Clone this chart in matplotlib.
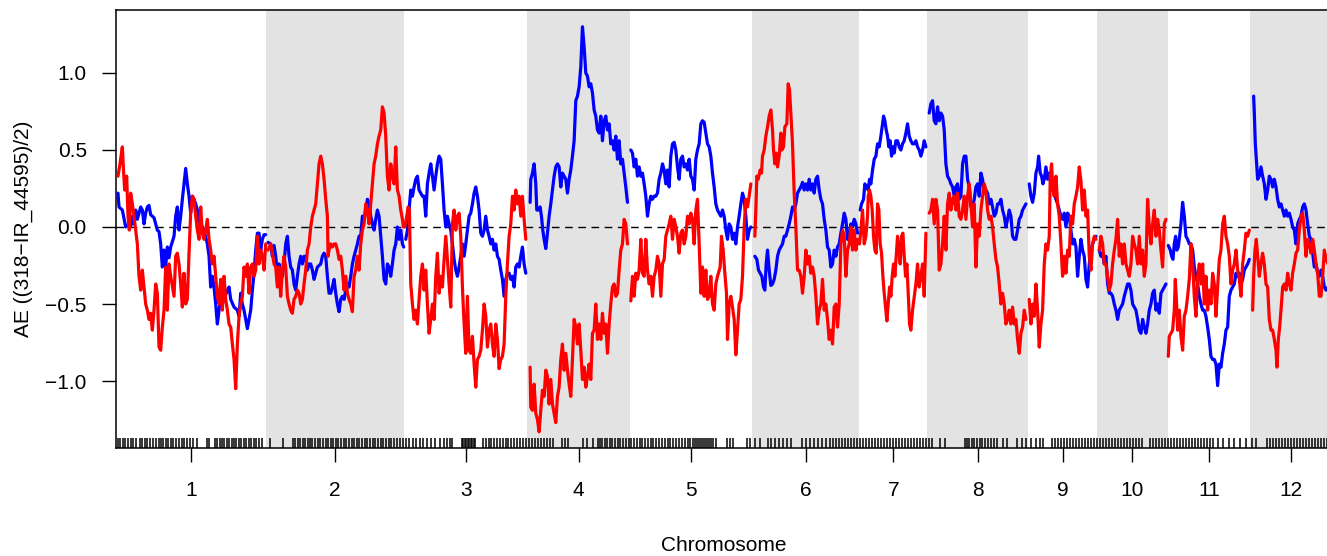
import numpy as np
import matplotlib
matplotlib.use("Agg")
import matplotlib.pyplot as plt

plt.rcParams['font.family'] = ['Liberation Sans', 'DejaVu Sans']

chromosomes = ["1", "2", "3", "4", "5", "6", "7", "8", "9", "10", "11", "12"]
# chromosome lengths in genome position units (100 kb)
chrom_len = [450, 414, 369, 309, 366, 321, 204, 303, 207, 211, 247, 246]

# (position within chromosome, AE value)
blue_1 = [(6, 0.22), (9, 0.13), (19, 0.11), (29, 0.00), (39, 0.02), (44, 0.00), (49, 0.07), (54, 0.02), (59, 0.11), (64, 0.05),
          (74, 0.13), (79, 0.11), (84, 0.02), (89, 0.09), (94, 0.13), (99, 0.14), (104, 0.08), (114, 0.06), (124, -0.02),
          (129, -0.03), (134, -0.11), (139, -0.26), (144, -0.15), (149, -0.26), (154, -0.13), (159, -0.20), (164, -0.13),
          (174, -0.06), (179, 0.07), (184, 0.13), (189, -0.02), (194, 0.07), (199, 0.18), (204, 0.28), (209, 0.38), (214, 0.28),
          (219, 0.20), (224, 0.09), (229, 0.20), (234, 0.18), (239, 0.15), (244, 0.11), (249, 0.00), (254, 0.02), (264, -0.02),
          (274, -0.11), (279, -0.19), (284, -0.39), (289, -0.32), (294, -0.39), (299, -0.50), (304, -0.63), (309, -0.54),
          (314, -0.45), (319, -0.50), (324, -0.47), (334, -0.41), (339, -0.39), (344, -0.47), (354, -0.52), (364, -0.54),
          (369, -0.58), (374, -0.43), (379, -0.50), (384, -0.54), (389, -0.60), (394, -0.66), (399, -0.60), (404, -0.54),
          (409, -0.41), (414, -0.30), (419, -0.15), (424, -0.04), (429, -0.04), (434, -0.15), (439, -0.08), (444, -0.05),
          (449, -0.05)]
blue_2 = [(6, -0.10), (14, -0.11), (19, -0.19), (24, -0.12), (29, -0.19), (34, -0.30), (39, -0.24), (44, -0.32), (49, -0.32),
          (54, -0.24), (59, -0.11), (64, -0.06), (69, -0.19), (74, -0.26), (79, -0.28), (84, -0.37), (89, -0.41), (94, -0.32),
          (99, -0.24), (104, -0.19), (109, -0.24), (114, -0.19), (119, -0.19), (124, -0.28), (129, -0.24), (134, -0.24),
          (139, -0.28), (144, -0.34), (149, -0.30), (154, -0.26), (164, -0.24), (169, -0.19), (174, -0.17), (179, -0.19),
          (184, -0.32), (189, -0.43), (194, -0.43), (199, -0.39), (204, -0.34), (209, -0.43), (214, -0.50), (219, -0.55),
          (224, -0.47), (229, -0.45), (234, -0.47), (239, -0.41), (244, -0.37), (249, -0.39), (254, -0.32), (259, -0.24),
          (264, -0.19), (269, -0.15), (274, -0.11), (279, -0.06), (284, -0.06), (289, 0.07), (294, 0.05), (299, 0.11),
          (304, 0.18), (309, 0.15), (314, 0.07), (319, 0.02), (324, -0.02), (329, 0.05), (334, 0.11), (339, 0.07), (344, -0.06),
          (349, -0.19), (354, -0.34), (359, -0.37), (364, -0.24), (369, -0.26), (374, -0.32), (379, -0.24), (384, -0.15),
          (389, -0.11), (394, 0.00), (399, -0.08), (404, -0.02), (409, -0.11), (413, -0.13)]
blue_3 = [(5, -0.08), (10, -0.02), (15, 0.11), (20, 0.24), (25, 0.20), (30, 0.26), (35, 0.31), (40, 0.33), (45, 0.24), (50, 0.22),
          (55, 0.20), (60, 0.20), (65, 0.07), (70, 0.28), (75, 0.35), (80, 0.41), (85, 0.33), (90, 0.24), (95, 0.33), (100, 0.41),
          (105, 0.46), (110, 0.44), (115, 0.28), (120, 0.11), (125, 0.00), (130, 0.07), (135, 0.02), (140, -0.02), (145, -0.11),
          (150, -0.21), (155, -0.28), (160, -0.32), (165, -0.26), (170, -0.19), (175, -0.11), (180, -0.19), (185, -0.11),
          (190, -0.02), (195, 0.07), (200, 0.09), (205, 0.15), (210, 0.22), (215, 0.26), (220, 0.20), (225, 0.11), (230, -0.04),
          (235, -0.06), (240, -0.02), (245, 0.07), (250, -0.02), (255, -0.06), (260, -0.11), (265, -0.08), (270, -0.15),
          (275, -0.11), (280, -0.19), (285, -0.21), (290, -0.28), (295, -0.34), (300, -0.45), (305, -0.34), (310, -0.30),
          (315, -0.30), (320, -0.34), (325, -0.32), (330, -0.39), (335, -0.26), (340, -0.24), (345, -0.26), (350, -0.19),
          (355, -0.13), (360, -0.24), (365, -0.30)]
blue_4 = [(9, 0.16), (11, 0.31), (16, 0.35), (21, 0.41), (26, 0.28), (29, 0.11), (33, 0.11), (39, 0.13), (43, 0.07), (47, -0.02),
          (51, -0.08), (56, -0.14), (61, -0.04), (66, 0.07), (71, 0.15), (76, 0.24), (81, 0.33), (86, 0.39), (91, 0.41), (96, 0.39),
          (101, 0.26), (106, 0.35), (111, 0.33), (116, 0.31), (121, 0.22), (126, 0.31), (131, 0.37), (136, 0.46), (141, 0.56),
          (146, 0.82), (151, 0.85), (156, 0.91), (161, 1.04), (166, 1.30), (171, 1.17), (176, 1.00), (181, 0.98), (186, 0.91),
          (191, 0.93), (196, 0.87), (201, 0.76), (206, 0.72), (211, 0.63), (216, 0.61), (221, 0.72), (226, 0.56), (231, 0.69),
          (236, 0.72), (241, 0.63), (246, 0.67), (251, 0.54), (256, 0.56), (261, 0.50), (266, 0.59), (271, 0.44), (276, 0.56),
          (281, 0.41), (286, 0.44), (291, 0.35), (296, 0.26), (301, 0.16)]
blue_5 = [(2, 0.50), (7, 0.48), (12, 0.39), (17, 0.44), (22, 0.33), (27, 0.39), (32, 0.33), (37, 0.35), (42, 0.28), (47, 0.20),
          (52, 0.07), (57, 0.15), (62, 0.20), (67, 0.18), (72, 0.20), (77, 0.20), (82, 0.22), (87, 0.31), (92, 0.35), (97, 0.41),
          (102, 0.37), (107, 0.28), (112, 0.37), (117, 0.26), (122, 0.46), (127, 0.54), (132, 0.55), (137, 0.50), (142, 0.39),
          (147, 0.31), (152, 0.44), (157, 0.46), (162, 0.39), (167, 0.41), (172, 0.37), (177, 0.44), (182, 0.33), (187, 0.31),
          (192, 0.24), (197, 0.44), (202, 0.50), (207, 0.54), (212, 0.67), (217, 0.69), (222, 0.68), (227, 0.61), (232, 0.54),
          (237, 0.52), (242, 0.46), (247, 0.35), (252, 0.26), (257, 0.15), (262, 0.11), (267, 0.09), (272, 0.07), (277, 0.11),
          (282, 0.07), (287, -0.02), (292, -0.08), (297, 0.02), (302, 0.00), (307, -0.08), (312, -0.04), (317, -0.11), (322, 0.00),
          (327, 0.07), (332, 0.15), (337, 0.22), (342, 0.18), (347, 0.07), (352, -0.08), (357, -0.02), (362, 0.00)]
blue_6 = [(8, -0.19), (14, -0.21), (19, -0.28), (24, -0.30), (29, -0.32), (34, -0.39), (38, -0.41), (42, -0.24), (46, -0.15),
          (51, -0.28), (56, -0.38), (61, -0.37), (66, -0.34), (71, -0.28), (76, -0.19), (81, -0.15), (86, -0.13), (91, -0.11),
          (96, -0.06), (101, -0.06), (106, -0.02), (111, 0.02), (116, 0.07), (121, 0.13), (126, 0.11), (131, 0.15), (136, 0.22),
          (141, 0.24), (146, 0.26), (151, 0.29), (156, 0.24), (161, 0.28), (166, 0.24), (171, 0.31), (176, 0.24), (181, 0.28),
          (186, 0.22), (191, 0.31), (196, 0.33), (201, 0.24), (206, 0.18), (211, 0.15), (216, 0.05), (221, -0.02), (226, -0.13),
          (231, -0.15), (236, -0.26), (241, -0.24), (246, -0.15), (251, -0.19), (256, -0.13), (261, -0.11), (266, -0.04),
          (271, 0.02), (276, 0.09), (281, 0.05), (286, -0.08), (291, -0.06), (296, 0.02), (301, 0.00), (306, 0.05), (311, 0.02),
          (316, -0.04)]
blue_7 = [(3, 0.11), (7, 0.15), (13, 0.18), (17, 0.28), (23, 0.26), (27, 0.24), (31, 0.31), (35, 0.28), (40, 0.37), (45, 0.44),
          (50, 0.46), (55, 0.54), (60, 0.52), (65, 0.59), (70, 0.67), (73, 0.72), (77, 0.69), (81, 0.63), (85, 0.59), (89, 0.52),
          (93, 0.56), (97, 0.46), (101, 0.52), (105, 0.48), (110, 0.56), (115, 0.56), (120, 0.52), (125, 0.50), (130, 0.54),
          (135, 0.56), (140, 0.61), (145, 0.67), (150, 0.59), (155, 0.56), (160, 0.54), (165, 0.54), (170, 0.56), (175, 0.52),
          (180, 0.50), (185, 0.46), (190, 0.50), (195, 0.56), (200, 0.52)]
blue_8 = [(6, 0.74), (11, 0.80), (16, 0.82), (21, 0.69), (26, 0.67), (31, 0.78), (36, 0.69), (41, 0.74), (46, 0.72), (51, 0.63),
          (56, 0.41), (61, 0.33), (66, 0.31), (71, 0.28), (76, 0.26), (81, 0.20), (86, 0.26), (91, 0.28), (96, 0.18), (101, 0.20),
          (106, 0.41), (111, 0.46), (116, 0.46), (121, 0.31), (126, 0.26), (131, 0.13), (136, 0.13), (141, 0.18), (146, 0.26),
          (151, 0.28), (156, 0.20), (161, 0.35), (166, 0.31), (171, 0.22), (176, 0.24), (181, 0.22), (186, 0.15), (191, 0.18),
          (196, 0.13), (201, 0.07), (206, 0.09), (211, 0.15), (216, 0.15), (221, 0.18), (226, 0.11), (231, 0.07), (236, 0.00),
          (241, 0.05), (246, 0.11), (251, 0.07), (256, -0.06), (261, -0.08), (266, -0.08), (271, -0.02), (276, 0.05), (281, 0.07),
          (286, 0.11), (291, 0.13), (296, 0.15)]
blue_9 = [(3, 0.28), (8, 0.20), (13, 0.16), (18, 0.22), (23, 0.35), (28, 0.39), (31, 0.46), (36, 0.35), (40, 0.33), (44, 0.28),
          (48, 0.31), (53, 0.39), (58, 0.31), (63, 0.35), (68, 0.28), (73, 0.24), (78, 0.22), (83, 0.18), (88, 0.15), (93, 0.11),
          (98, 0.07), (103, 0.05), (108, 0.09), (113, 0.00), (118, 0.09), (123, 0.07), (128, -0.02), (133, -0.11), (138, -0.08),
          (143, -0.13), (148, -0.32), (153, -0.19), (158, -0.08), (163, -0.15), (168, -0.19), (173, -0.34), (178, -0.39),
          (183, -0.24), (188, -0.15), (193, -0.11), (198, -0.08), (203, -0.06)]
blue_10 = [(6, -0.15), (11, -0.19), (16, -0.17), (21, -0.24), (26, -0.19), (31, -0.37), (36, -0.43), (41, -0.43), (46, -0.45),
           (51, -0.50), (56, -0.54), (61, -0.60), (66, -0.54), (71, -0.52), (76, -0.50), (81, -0.45), (86, -0.41), (91, -0.37),
           (96, -0.37), (101, -0.41), (106, -0.50), (111, -0.52), (116, -0.54), (121, -0.60), (126, -0.67), (131, -0.69),
           (136, -0.60), (141, -0.65), (146, -0.69), (151, -0.63), (156, -0.54), (161, -0.50), (166, -0.43), (171, -0.41),
           (176, -0.54), (181, -0.50), (186, -0.56), (191, -0.43), (196, -0.41), (201, -0.39), (206, -0.37)]
blue_11 = [(2, -0.12), (8, -0.15), (12, -0.19), (16, -0.21), (20, -0.11), (24, -0.06), (28, -0.15), (32, -0.13), (36, -0.06),
           (40, 0.02), (45, 0.16), (50, 0.07), (55, -0.06), (60, -0.08), (65, -0.11), (70, -0.11), (75, -0.15), (80, -0.26),
           (85, -0.32), (90, -0.37), (95, -0.45), (100, -0.50), (105, -0.54), (110, -0.54), (115, -0.58), (120, -0.65),
           (125, -0.73), (130, -0.84), (135, -0.86), (140, -0.86), (145, -0.89), (150, -1.03), (155, -0.89), (160, -0.91),
           (165, -0.82), (170, -0.76), (175, -0.67), (180, -0.65), (185, -0.45), (190, -0.41), (195, -0.39), (200, -0.37),
           (205, -0.30), (210, -0.32), (215, -0.30), (220, -0.37), (225, -0.34), (230, -0.28), (235, -0.26), (240, -0.24),
           (245, -0.21)]
blue_12 = [(11, 0.85), (13, 0.74), (16, 0.54), (20, 0.41), (23, 0.31), (28, 0.33), (33, 0.39), (38, 0.33), (43, 0.28), (48, 0.18),
           (53, 0.24), (58, 0.33), (63, 0.31), (68, 0.26), (73, 0.31), (78, 0.26), (83, 0.18), (88, 0.13), (93, 0.15), (98, 0.11),
           (103, 0.07), (108, 0.11), (113, 0.07), (118, 0.09), (123, 0.05), (128, 0.00), (133, -0.02), (138, -0.11), (143, 0.02),
           (148, 0.05), (153, 0.07), (158, 0.13), (163, 0.15), (168, 0.11), (173, 0.02), (178, -0.06), (183, -0.08), (188, -0.17),
           (193, -0.26), (198, -0.24), (203, -0.30), (208, -0.32), (213, -0.28), (218, -0.32), (223, -0.39), (228, -0.41),
           (234, -0.39)]

red_1 = [(6, 0.33), (12, 0.41), (19, 0.52), (22, 0.39), (26, 0.24), (32, 0.33), (36, 0.07), (40, -0.02), (44, 0.22), (49, 0.15),
         (54, 0.07), (59, -0.02), (64, -0.11), (69, -0.32), (74, -0.41), (79, -0.28), (84, -0.39), (89, -0.50), (94, -0.54),
         (99, -0.60), (104, -0.56), (109, -0.67), (114, -0.54), (119, -0.37), (124, -0.43), (129, -0.78), (134, -0.80),
         (139, -0.65), (144, -0.54), (149, -0.26), (154, -0.54), (159, -0.24), (164, -0.32), (174, -0.45), (179, -0.19),
         (184, -0.17), (189, -0.24), (194, -0.37), (199, -0.52), (204, -0.30), (209, -0.50), (214, -0.47), (219, -0.17),
         (224, 0.09), (229, 0.20), (234, 0.18), (239, 0.07), (244, -0.02), (249, -0.08), (254, 0.13), (259, -0.04), (264, -0.08),
         (269, -0.02), (274, 0.05), (279, -0.08), (284, -0.15), (289, -0.24), (294, -0.19), (299, -0.32), (304, -0.45),
         (309, -0.50), (314, -0.34), (319, -0.54), (324, -0.32), (329, -0.47), (334, -0.54), (339, -0.63), (344, -0.65),
         (349, -0.76), (354, -0.86), (359, -1.05), (364, -0.76), (369, -0.58), (374, -0.50), (379, -0.45), (384, -0.26),
         (389, -0.32), (394, -0.24), (399, -0.43), (404, -0.26), (409, -0.24), (414, -0.32), (419, -0.28), (424, -0.06),
         (429, -0.24), (434, -0.15), (439, -0.19), (444, -0.28), (449, -0.11)]
red_2 = [(6, -0.15), (14, -0.11), (19, -0.17), (24, -0.24), (29, -0.26), (34, -0.39), (39, -0.26), (44, -0.45), (49, -0.28),
         (54, -0.19), (59, -0.26), (64, -0.45), (69, -0.50), (74, -0.54), (79, -0.56), (84, -0.47), (89, -0.45), (94, -0.41),
         (99, -0.43), (104, -0.50), (109, -0.47), (114, -0.37), (119, -0.28), (124, -0.15), (129, -0.11), (134, 0.00),
         (139, 0.07), (144, 0.11), (149, 0.15), (154, 0.28), (159, 0.41), (164, 0.46), (169, 0.41), (174, 0.31), (179, 0.18),
         (184, 0.07), (186, -0.19), (189, -0.15), (194, -0.11), (199, -0.13), (204, -0.11), (209, -0.11), (214, -0.15),
         (219, -0.21), (224, -0.19), (229, -0.28), (234, -0.41), (239, -0.32), (244, -0.43), (249, -0.47), (254, -0.50),
         (259, -0.55), (264, -0.32), (269, -0.28), (274, -0.19), (279, -0.28), (284, -0.11), (289, -0.02), (294, 0.02),
         (299, 0.15), (304, 0.11), (309, 0.02), (314, 0.15), (319, 0.28), (324, 0.41), (329, 0.46), (334, 0.54), (339, 0.59),
         (344, 0.63), (349, 0.78), (354, 0.74), (359, 0.59), (364, 0.33), (369, 0.24), (374, 0.41), (379, 0.33), (384, 0.28),
         (389, 0.52), (394, 0.24), (399, 0.20), (404, 0.11), (409, 0.05), (412, 0.00)]
red_3 = [(2, 0.00), (8, 0.07), (12, 0.13), (16, 0.11), (20, -0.37), (25, -0.50), (30, -0.60), (35, -0.54), (40, -0.63), (45, -0.47),
         (50, -0.32), (55, -0.24), (60, -0.41), (65, -0.28), (70, -0.50), (75, -0.69), (80, -0.60), (85, -0.50), (90, -0.60),
         (95, -0.32), (100, -0.17), (105, -0.43), (110, -0.32), (115, -0.39), (120, -0.21), (125, -0.06), (130, -0.21),
         (135, -0.37), (140, -0.52), (145, 0.02), (150, 0.11), (155, -0.02), (160, 0.07), (165, 0.09), (170, -0.06), (175, -0.39),
         (180, -0.63), (185, -0.82), (190, -0.45), (195, -0.80), (200, -0.82), (205, -0.71), (210, -0.89), (215, -1.04),
         (220, -0.86), (225, -0.84), (230, -0.80), (235, -0.67), (240, -0.50), (245, -0.58), (250, -0.78), (255, -0.67),
         (260, -0.63), (265, -0.76), (270, -0.84), (275, -0.63), (280, -0.73), (285, -0.92), (290, -0.86), (295, -0.84),
         (300, -0.76), (305, -0.45), (310, -0.24), (315, -0.06), (320, 0.02), (325, 0.20), (330, 0.11), (335, 0.24), (340, 0.15),
         (345, 0.20), (350, 0.07), (355, 0.20), (360, 0.05), (365, -0.08)]
red_4 = [(9, -0.91), (11, -1.17), (16, -1.19), (21, -1.02), (26, -1.21), (31, -1.25), (36, -1.33), (41, -1.19), (46, -1.06),
         (51, -1.10), (56, -0.93), (61, -0.97), (66, -1.15), (71, -0.99), (76, -1.15), (81, -1.21), (86, -1.27), (91, -1.10),
         (96, -1.04), (101, -0.86), (106, -0.76), (111, -0.93), (116, -0.82), (121, -0.93), (126, -1.02), (131, -1.10),
         (136, -0.86), (141, -0.60), (146, -0.65), (151, -0.76), (156, -0.63), (161, -0.80), (166, -0.99), (171, -0.91),
         (176, -1.04), (181, -0.97), (186, -0.89), (191, -0.99), (196, -0.69), (201, -0.67), (206, -0.50), (211, -0.73),
         (216, -0.63), (221, -0.73), (226, -0.56), (231, -0.69), (236, -0.63), (241, -0.82), (246, -0.63), (251, -0.50),
         (256, -0.39), (261, -0.37), (266, -0.45), (271, -0.43), (276, -0.28), (281, -0.15), (286, -0.11), (291, 0.05),
         (296, 0.02), (301, -0.11)]
red_5 = [(2, -0.48), (7, -0.32), (12, -0.45), (17, -0.30), (22, -0.34), (27, -0.28), (32, -0.08), (37, -0.30), (42, -0.32),
         (47, -0.08), (52, -0.28), (57, -0.37), (62, -0.32), (67, -0.45), (72, -0.32), (77, -0.28), (82, -0.19), (87, -0.24),
         (92, -0.45), (97, -0.24), (102, -0.21), (107, -0.06), (112, -0.02), (117, 0.02), (122, 0.07), (127, -0.08), (132, 0.05),
         (137, 0.00), (142, -0.06), (147, -0.17), (152, -0.04), (157, -0.02), (162, -0.11), (167, -0.06), (172, 0.07), (177, 0.02),
         (182, 0.09), (187, 0.05), (192, -0.11), (197, 0.11), (202, 0.18), (207, -0.11), (212, -0.43), (217, -0.26), (222, -0.45),
         (227, -0.28), (232, -0.47), (237, -0.45), (242, -0.32), (247, -0.50), (252, -0.54), (257, -0.37), (262, -0.32),
         (270, -0.26), (274, -0.06), (279, -0.15), (284, -0.30), (289, -0.43), (292, -0.73), (297, -0.50), (302, -0.45),
         (307, -0.52), (312, -0.60), (317, -0.83), (322, -0.67), (327, -0.50), (332, -0.47), (337, -0.32), (342, 0.00),
         (347, 0.18), (352, 0.13), (357, 0.20), (362, 0.28)]
red_6 = [(8, -0.06), (11, 0.11), (14, 0.33), (18, 0.31), (24, 0.37), (28, 0.35), (31, 0.46), (36, 0.50), (41, 0.59), (46, 0.65),
         (51, 0.72), (56, 0.76), (61, 0.63), (64, 0.50), (68, 0.41), (72, 0.48), (76, 0.39), (81, 0.46), (86, 0.61), (89, 0.50),
         (94, 0.52), (98, 0.65), (104, 0.67), (108, 0.93), (112, 0.89), (116, 0.74), (121, 0.54), (126, 0.22), (131, 0.00),
         (136, -0.28), (141, -0.28), (146, -0.32), (151, -0.43), (156, -0.32), (161, -0.15), (166, -0.24), (171, -0.19),
         (176, -0.30), (181, -0.26), (186, -0.32), (191, -0.45), (196, -0.63), (201, -0.54), (206, -0.50), (211, -0.34),
         (216, -0.54), (221, -0.50), (226, -0.60), (231, -0.73), (236, -0.67), (241, -0.76), (246, -0.52), (251, -0.50),
         (256, -0.65), (261, -0.50), (266, -0.11), (271, -0.02), (276, -0.06), (281, -0.32), (286, -0.15), (291, -0.11),
         (296, 0.00), (301, -0.15), (306, -0.02), (311, -0.15), (316, -0.08)]
red_7 = [(1, -0.11), (5, -0.02), (10, 0.11), (15, -0.11), (20, -0.06), (25, 0.07), (27, 0.20), (31, 0.24), (35, 0.20), (39, 0.11),
         (43, -0.06), (47, -0.15), (51, -0.17), (55, 0.15), (59, 0.11), (63, -0.11), (67, -0.17), (71, -0.32), (75, -0.43),
         (79, -0.52), (83, -0.61), (87, -0.50), (91, -0.39), (95, -0.45), (99, -0.32), (103, -0.24), (107, -0.32), (111, -0.19),
         (115, -0.06), (119, -0.15), (123, -0.24), (127, -0.06), (131, -0.04), (135, -0.19), (139, -0.32), (143, -0.24),
         (147, -0.43), (151, -0.63), (155, -0.67), (160, -0.54), (170, -0.37), (175, -0.24), (180, -0.39), (185, -0.32),
         (190, -0.24), (195, -0.45), (200, -0.04)]
red_8 = [(6, 0.09), (11, 0.11), (16, 0.18), (21, 0.02), (26, 0.18), (31, 0.11), (36, -0.28), (41, -0.24), (46, -0.11), (51, 0.07),
         (56, -0.15), (61, 0.15), (66, 0.22), (71, 0.11), (76, 0.18), (81, 0.20), (86, 0.11), (91, 0.22), (96, 0.07), (101, 0.05),
         (106, 0.11), (111, 0.20), (116, 0.05), (121, 0.20), (126, 0.28), (131, 0.15), (136, 0.00), (141, 0.15), (146, -0.26),
         (151, 0.02), (156, -0.06), (161, 0.11), (166, 0.20), (171, 0.28), (176, 0.24), (181, 0.11), (186, 0.05), (191, 0.07),
         (196, 0.00), (201, -0.11), (206, -0.21), (211, -0.26), (216, -0.37), (221, -0.50), (226, -0.43), (231, -0.50),
         (236, -0.63), (241, -0.60), (246, -0.54), (251, -0.63), (256, -0.52), (261, -0.63), (266, -0.60), (271, -0.73),
         (276, -0.82), (281, -0.69), (286, -0.65), (291, -0.54), (296, -0.60)]
red_9 = [(3, -0.47), (8, -0.63), (13, -0.50), (18, -0.58), (23, -0.37), (28, -0.54), (33, -0.78), (38, -0.63), (43, -0.54),
         (48, -0.24), (53, -0.11), (58, -0.15), (63, -0.06), (66, 0.33), (70, 0.41), (74, 0.24), (78, 0.20), (83, 0.33), (88, 0.15),
         (93, 0.07), (98, -0.11), (103, -0.32), (108, -0.19), (113, -0.30), (118, -0.15), (123, -0.19), (128, 0.07), (133, 0.02),
         (138, 0.15), (143, 0.20), (148, 0.26), (153, 0.39), (158, 0.30), (163, 0.11), (168, 0.24), (173, 0.07), (178, 0.11),
         (183, -0.19), (188, -0.28), (193, -0.11), (198, -0.06), (203, -0.08)]
red_10 = [(6, -0.15), (11, -0.06), (16, -0.11), (21, -0.24), (26, -0.24), (31, -0.32), (36, -0.41), (41, -0.37), (46, -0.24),
          (51, -0.15), (56, -0.08), (61, 0.05), (66, -0.19), (71, -0.11), (76, -0.24), (81, -0.11), (86, -0.24), (91, -0.28),
          (96, -0.32), (101, -0.24), (106, -0.06), (111, -0.11), (116, -0.15), (121, -0.24), (126, -0.06), (131, -0.24),
          (136, -0.15), (141, -0.32), (146, -0.24), (151, 0.18), (156, 0.00), (161, -0.11), (166, 0.02), (171, 0.11), (176, -0.06),
          (181, 0.05), (186, -0.02), (191, -0.15), (196, -0.26), (201, 0.02), (206, 0.05)]
red_11 = [(2, -0.84), (5, -0.71), (10, -0.69), (15, -0.67), (20, -0.54), (23, -0.34), (27, -0.50), (30, -0.67), (35, -0.54),
          (40, -0.71), (45, -0.80), (50, -0.58), (55, -0.54), (60, -0.45), (65, -0.34), (70, -0.11), (75, -0.24), (80, -0.45),
          (85, -0.58), (90, -0.32), (95, -0.24), (100, -0.37), (105, -0.24), (110, -0.50), (115, -0.32), (120, -0.54), (125, -0.41),
          (130, -0.50), (135, -0.30), (140, -0.37), (145, -0.58), (150, -0.39), (155, -0.21), (160, -0.15), (165, 0.02), (170, 0.07),
          (175, -0.06), (180, -0.11), (185, -0.19), (190, -0.37), (195, -0.28), (200, -0.24), (205, -0.15), (210, -0.28),
          (215, -0.34), (220, -0.45), (225, -0.24), (230, -0.15), (235, -0.04), (240, -0.06), (245, -0.02)]
red_12 = [(8, -0.54), (11, -0.32), (15, -0.15), (19, -0.08), (23, -0.19), (28, -0.32), (33, -0.24), (38, -0.17), (43, -0.24),
          (48, -0.37), (53, -0.39), (58, -0.60), (63, -0.67), (68, -0.67), (73, -0.73), (78, -0.80), (81, -0.91), (85, -0.73),
          (89, -0.65), (93, -0.54), (98, -0.39), (103, -0.37), (108, -0.41), (113, -0.30), (118, -0.37), (123, -0.41), (128, -0.30),
          (133, -0.24), (138, -0.17), (143, -0.15), (148, -0.02), (153, 0.07), (158, 0.09), (163, -0.02), (168, -0.19), (173, -0.08),
          (178, -0.11), (183, -0.17), (188, -0.08), (193, -0.15), (198, -0.24), (203, -0.30), (208, -0.45), (213, -0.45),
          (218, -0.32), (223, -0.15), (228, -0.21), (234, -0.24)]

blue = [blue_1, blue_2, blue_3, blue_4, blue_5, blue_6, blue_7, blue_8, blue_9, blue_10, blue_11, blue_12]
red = [red_1, red_2, red_3, red_4, red_5, red_6, red_7, red_8, red_9, red_10, red_11, red_12]

# genotyped marker positions (genome coordinate, same units as chrom_len)
markers = [
    6, 12, 21, 27, 36, 45, 51, 60, 72, 78, 87, 93, 102, 111, 120, 129, 135, 141, 150, 156, 165, 171, 180, 189, 198, 204, 213, 222,
    231, 243, 273, 279, 297, 303, 312, 318, 324, 333, 339, 348, 354, 360, 369, 375, 384, 390, 399, 405, 414, 420, 429, 438,
    462, 501, 531, 537, 546, 552, 561, 567, 576, 582, 588, 597, 606, 612, 621, 630, 636, 645, 651, 660, 666, 675, 684, 690,
    699, 708, 714, 723, 729, 738, 747, 753, 762, 771, 777, 786, 795, 801, 810, 819, 825, 834, 843, 852, 861,
    870, 879, 891, 900, 912, 921, 933, 945, 957, 972, 984, 993, 1002, 1008,
    1038, 1041, 1047, 1050, 1056, 1059, 1065, 1068, 1074, 1077,
    1101, 1110, 1119, 1125, 1134, 1143, 1152, 1161, 1170, 1176, 1185, 1194, 1203, 1212, 1221, 1230, 1239, 1248, 1257, 1266,
    1275, 1284, 1293, 1302, 1311, 1338, 1347, 1356, 1401, 1413, 1431,
    1446, 1452, 1458, 1467, 1473, 1482, 1488, 1497, 1506, 1512, 1521, 1530, 1539, 1545, 1554, 1563, 1572, 1578, 1587, 1596,
    1605, 1611, 1620, 1629, 1638, 1647, 1656, 1662, 1671, 1680, 1689, 1698, 1707, 1716, 1722, 1731, 1737, 1743, 1749, 1755,
    1761, 1767, 1773, 1779, 1785, 1791, 1800,
    1833, 1842, 1851, 1893, 1902, 1917, 1932, 1956, 1965, 1977, 1989, 2001, 2013, 2025, 2058, 2070, 2082, 2094, 2106, 2118,
    2130, 2142, 2151, 2160, 2169, 2178, 2187, 2196, 2205, 2214, 2223, 2232, 2241, 2250, 2259, 2268, 2277, 2286, 2295, 2304,
    2313, 2322, 2331, 2340, 2349, 2358, 2367, 2376, 2385, 2394, 2403, 2412, 2421, 2430, 2439, 2448,
    2472, 2487, 2547, 2553, 2559, 2568, 2574, 2583, 2592, 2598, 2607, 2616, 2625, 2634, 2643,
    2661, 2673, 2703, 2718, 2730, 2745, 2760, 2772, 2781,
    2808, 2817, 2826, 2835, 2844, 2853, 2862, 2871, 2880, 2889, 2898, 2907, 2916, 2925, 2934, 2943, 2952, 2961, 2970, 2979,
    2988, 2997, 3006, 3015, 3024, 3033, 3042, 3051, 3060, 3069, 3078,
    3102, 3111, 3120, 3129, 3138, 3147, 3156, 3165, 3174, 3183, 3192, 3201, 3210, 3219, 3228, 3237, 3246, 3255, 3264, 3273,
    3282, 3291, 3306, 3321, 3339, 3354, 3372, 3390, 3408, 3420,
    3453, 3462, 3471, 3480, 3489, 3498, 3507, 3516, 3525, 3534, 3543, 3552, 3561, 3570, 3579, 3588, 3597, 3606, 3615, 3624,
    3633, 3642,
]

y_ticks = [-1.0, -0.5, 0.0, 0.5, 1.0]
y_label = "AE ((318\u2212IR_44595)/2)"
x_label = "Chromosome"

W, H = 1327, 556
fig = plt.figure(figsize=(W / 100, H / 100), dpi=100)
ax = fig.add_axes([116 / W, 1 - 448 / H, 1216 / W, 438 / H])

starts = np.concatenate([[0], np.cumsum(chrom_len)[:-1]])
ends = np.cumsum(chrom_len)
centers = (starts + ends) / 2

for i, (s, e) in enumerate(zip(starts, ends)):
    if i % 2 == 1:
        ax.axvspan(s, e, color='#e3e3e3', lw=0, zorder=0)

for series, col in ((blue, '#0000ff'), (red, '#ff0000')):
    for i, pts in enumerate(series):
        arr = np.array(pts, dtype=float)
        ax.plot(starts[i] + arr[:, 0], arr[:, 1], color=col, lw=2.3,
                solid_joinstyle='round', solid_capstyle='round', zorder=3)

ax.axhline(0, color='black', lw=1.0, dashes=(5.5, 4), zorder=2)

ylo, yhi = -1.435, 1.409
ax.set_ylim(ylo, yhi)
ax.set_xlim(0, ends[-1])
ax.vlines(markers, ylo, ylo + 9.5 / 154, color='black', lw=1.1, zorder=4)

ax.set_yticks(y_ticks)
ax.set_yticklabels([f"{v:.1f}".replace('-', '\u2212') for v in y_ticks])
ax.set_xticks(centers)
ax.set_xticklabels(chromosomes)
ax.tick_params(axis='both', direction='out', length=10, width=1.0, labelsize=15, colors='black')
ax.tick_params(axis='x', pad=14)
ax.tick_params(axis='y', pad=11)
for sp in ax.spines.values():
    sp.set_linewidth(1.1)
ax.set_ylabel(y_label, fontsize=15, labelpad=9)
ax.set_xlabel(x_label, fontsize=15, labelpad=26)

fig.savefig("out.png", dpi=100)
